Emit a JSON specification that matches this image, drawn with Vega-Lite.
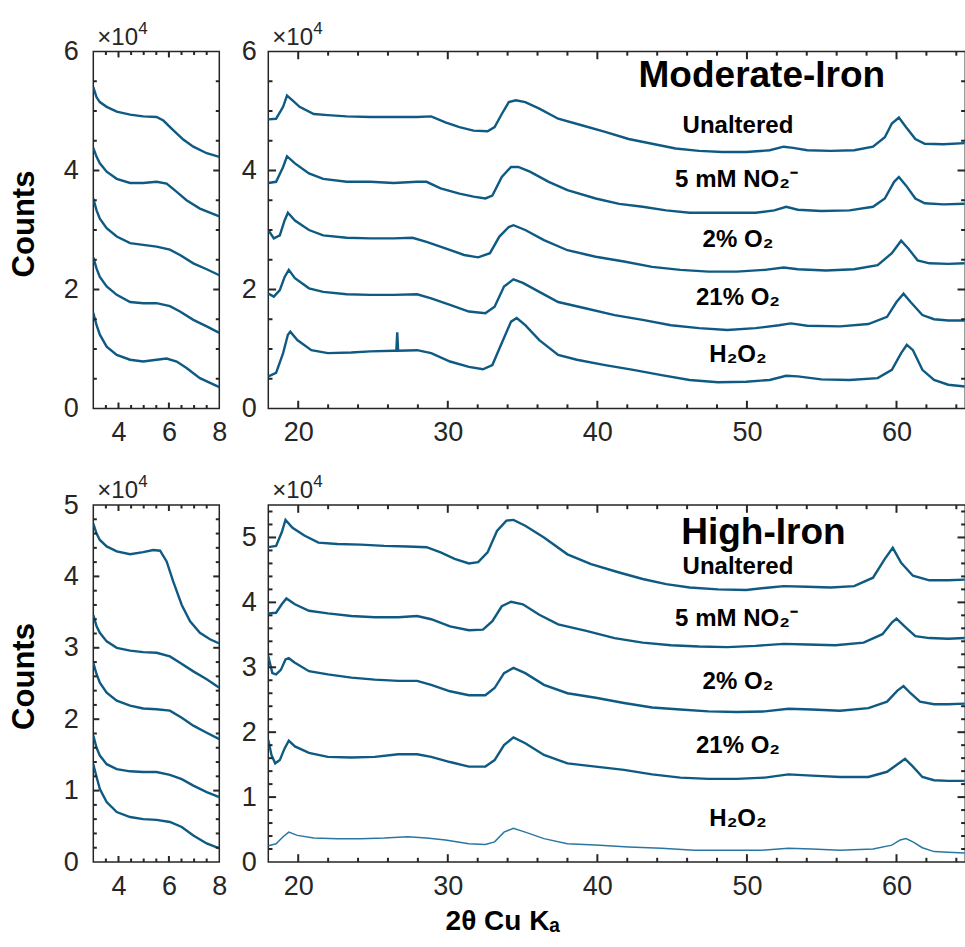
{
"$schema": "https://vega.github.io/schema/vega-lite/v6.json",
"autosize": {"type": "none"},
"padding": {"left": 93.3, "top": 51.5, "right": 871.7, "bottom": 895.5},
"background": "white",
"bounds": "flush",
"columns": 2,
"spacing": {"row": 96.5, "column": 49},
"config": {
  "view": {"stroke": "#262626", "strokeWidth": 1.5},
  "axis": {"labelFont": "Liberation Sans", "labelFontSize": 27, "labelColor": "#262626", "ticks": false, "domain": false, "grid": false, "labelOverlap": false, "labelFlush": false, "titleFont": "Liberation Sans", "titleColor": "#000000"},
  "rule": {"color": "#262626", "strokeWidth": 2}
},
"datasets": {
"TXL": [{"v":3.5,"m":"n"},{"v":4,"m":"j"},{"v":4.5,"m":"n"},{"v":5,"m":"n"},{"v":5.5,"m":"n"},{"v":6,"m":"j"},{"v":6.5,"m":"n"},{"v":7,"m":"n"},{"v":7.5,"m":"n"}],
"TXR": [{"v":20,"m":"j"},{"v":22,"m":"n"},{"v":24,"m":"n"},{"v":26,"m":"n"},{"v":28,"m":"n"},{"v":30,"m":"j"},{"v":32,"m":"n"},{"v":34,"m":"n"},{"v":36,"m":"n"},{"v":38,"m":"n"},{"v":40,"m":"j"},{"v":42,"m":"n"},{"v":44,"m":"n"},{"v":46,"m":"n"},{"v":48,"m":"n"},{"v":50,"m":"j"},{"v":52,"m":"n"},{"v":54,"m":"n"},{"v":56,"m":"n"},{"v":58,"m":"n"},{"v":60,"m":"j"},{"v":62,"m":"n"},{"v":64,"m":"n"}],
"TYT": [{"v":5000,"m":"n"},{"v":10000,"m":"n"},{"v":15000,"m":"n"},{"v":20000,"m":"j"},{"v":25000,"m":"n"},{"v":30000,"m":"n"},{"v":35000,"m":"n"},{"v":40000,"m":"j"},{"v":45000,"m":"n"},{"v":50000,"m":"n"},{"v":55000,"m":"n"}],
"TYB": [{"v":2000,"m":"n"},{"v":4000,"m":"n"},{"v":6000,"m":"n"},{"v":8000,"m":"n"},{"v":10000,"m":"j"},{"v":12000,"m":"n"},{"v":14000,"m":"n"},{"v":16000,"m":"n"},{"v":18000,"m":"n"},{"v":20000,"m":"j"},{"v":22000,"m":"n"},{"v":24000,"m":"n"},{"v":26000,"m":"n"},{"v":28000,"m":"n"},{"v":30000,"m":"j"},{"v":32000,"m":"n"},{"v":34000,"m":"n"},{"v":36000,"m":"n"},{"v":38000,"m":"n"},{"v":40000,"m":"j"},{"v":42000,"m":"n"},{"v":44000,"m":"n"},{"v":46000,"m":"n"},{"v":48000,"m":"n"},{"v":50000,"m":"j"},{"v":52000,"m":"n"},{"v":54000,"m":"n"}],
"ML": [
{"s":"U","x":3.0,"y":54000},{"s":"U","x":3.13,"y":52300},{"s":"U","x":3.26,"y":51500},{"s":"U","x":3.53,"y":50700},{"s":"U","x":3.93,"y":49900},{"s":"U","x":4.46,"y":49400},{"s":"U","x":4.98,"y":49100},{"s":"U","x":5.51,"y":49000},{"s":"U","x":5.78,"y":48400},{"s":"U","x":6.17,"y":46800},{"s":"U","x":6.57,"y":45200},{"s":"U","x":6.97,"y":44000},{"s":"U","x":7.5,"y":42900},{"s":"U","x":8.0,"y":42300},
{"s":"N","x":3.0,"y":43800},{"s":"N","x":3.13,"y":42300},{"s":"N","x":3.26,"y":41200},{"s":"N","x":3.53,"y":39800},{"s":"N","x":3.93,"y":38600},{"s":"N","x":4.46,"y":37900},{"s":"N","x":4.98,"y":37900},{"s":"N","x":5.51,"y":38100},{"s":"N","x":5.91,"y":37800},{"s":"N","x":6.31,"y":36400},{"s":"N","x":6.7,"y":35000},{"s":"N","x":7.23,"y":33600},{"s":"N","x":8.0,"y":32300},
{"s":"O2","x":3.0,"y":35300},{"s":"O2","x":3.13,"y":33300},{"s":"O2","x":3.26,"y":31900},{"s":"O2","x":3.53,"y":30300},{"s":"O2","x":3.93,"y":28900},{"s":"O2","x":4.46,"y":27800},{"s":"O2","x":4.98,"y":27500},{"s":"O2","x":5.51,"y":27200},{"s":"O2","x":6.04,"y":26700},{"s":"O2","x":6.44,"y":25800},{"s":"O2","x":6.97,"y":24400},{"s":"O2","x":7.5,"y":23400},{"s":"O2","x":8.0,"y":22400},
{"s":"O21","x":3.0,"y":25400},{"s":"O21","x":3.13,"y":23500},{"s":"O21","x":3.26,"y":22100},{"s":"O21","x":3.53,"y":20500},{"s":"O21","x":3.93,"y":19100},{"s":"O21","x":4.46,"y":17900},{"s":"O21","x":4.98,"y":17700},{"s":"O21","x":5.51,"y":17700},{"s":"O21","x":6.04,"y":17200},{"s":"O21","x":6.44,"y":16300},{"s":"O21","x":6.97,"y":14900},{"s":"O21","x":7.5,"y":13800},{"s":"O21","x":8.0,"y":12700},
{"s":"H","x":3.0,"y":16100},{"s":"H","x":3.13,"y":14000},{"s":"H","x":3.26,"y":12400},{"s":"H","x":3.53,"y":10400},{"s":"H","x":3.93,"y":9000},{"s":"H","x":4.46,"y":8200},{"s":"H","x":4.98,"y":7900},{"s":"H","x":5.51,"y":8200},{"s":"H","x":5.91,"y":8400},{"s":"H","x":6.31,"y":7900},{"s":"H","x":6.7,"y":6800},{"s":"H","x":7.23,"y":5100},{"s":"H","x":8.0,"y":3600}
],
"HL": [
{"s":"U","x":3.0,"y":47400},{"s":"U","x":3.13,"y":46000},{"s":"U","x":3.26,"y":45100},{"s":"U","x":3.53,"y":44200},{"s":"U","x":3.93,"y":43500},{"s":"U","x":4.46,"y":43100},{"s":"U","x":4.98,"y":43400},{"s":"U","x":5.38,"y":43700},{"s":"U","x":5.65,"y":43600},{"s":"U","x":5.91,"y":42100},{"s":"U","x":6.17,"y":39300},{"s":"U","x":6.51,"y":36000},{"s":"U","x":6.84,"y":33700},{"s":"U","x":7.23,"y":32100},{"s":"U","x":7.63,"y":31200},{"s":"U","x":8.0,"y":30600},
{"s":"N","x":3.0,"y":34600},{"s":"N","x":3.13,"y":33000},{"s":"N","x":3.26,"y":32100},{"s":"N","x":3.53,"y":30900},{"s":"N","x":3.93,"y":30000},{"s":"N","x":4.46,"y":29600},{"s":"N","x":4.98,"y":29400},{"s":"N","x":5.51,"y":29300},{"s":"N","x":6.04,"y":28800},{"s":"N","x":6.44,"y":27900},{"s":"N","x":6.97,"y":26700},{"s":"N","x":7.5,"y":25600},{"s":"N","x":8.0,"y":24400},
{"s":"O2","x":3.0,"y":27900},{"s":"O2","x":3.13,"y":26300},{"s":"O2","x":3.26,"y":25100},{"s":"O2","x":3.53,"y":23700},{"s":"O2","x":3.93,"y":22600},{"s":"O2","x":4.46,"y":21900},{"s":"O2","x":4.98,"y":21500},{"s":"O2","x":5.51,"y":21400},{"s":"O2","x":6.04,"y":21200},{"s":"O2","x":6.51,"y":20200},{"s":"O2","x":6.97,"y":19100},{"s":"O2","x":7.5,"y":18100},{"s":"O2","x":8.0,"y":17200},
{"s":"O21","x":3.0,"y":17700},{"s":"O21","x":3.13,"y":16000},{"s":"O21","x":3.26,"y":14900},{"s":"O21","x":3.53,"y":13700},{"s":"O21","x":3.93,"y":13000},{"s":"O21","x":4.46,"y":12700},{"s":"O21","x":4.98,"y":12600},{"s":"O21","x":5.51,"y":12600},{"s":"O21","x":6.04,"y":12200},{"s":"O21","x":6.51,"y":11600},{"s":"O21","x":6.97,"y":10700},{"s":"O21","x":7.5,"y":9800},{"s":"O21","x":8.0,"y":9100},
{"s":"H","x":3.0,"y":13700},{"s":"H","x":3.13,"y":11900},{"s":"H","x":3.26,"y":10200},{"s":"H","x":3.53,"y":8400},{"s":"H","x":3.93,"y":7000},{"s":"H","x":4.46,"y":6300},{"s":"H","x":4.98,"y":6000},{"s":"H","x":5.51,"y":5900},{"s":"H","x":6.04,"y":5600},{"s":"H","x":6.51,"y":4900},{"s":"H","x":6.97,"y":3700},{"s":"H","x":7.5,"y":2600},{"s":"H","x":8.0,"y":1900}
],
"MR": [
{"s":"U","x":18.0,"y":48600},{"s":"U","x":18.52,"y":48700},{"s":"U","x":18.99,"y":50700},{"s":"U","x":19.25,"y":52600},{"s":"U","x":19.62,"y":51800},{"s":"U","x":20.09,"y":50700},{"s":"U","x":21.04,"y":49500},{"s":"U","x":21.98,"y":49300},{"s":"U","x":23.24,"y":49100},{"s":"U","x":24.81,"y":49000},{"s":"U","x":26.38,"y":49000},{"s":"U","x":27.95,"y":49000},{"s":"U","x":28.89,"y":49100},{"s":"U","x":29.84,"y":48100},{"s":"U","x":30.78,"y":47300},{"s":"U","x":31.72,"y":46700},{"s":"U","x":32.66,"y":46600},{"s":"U","x":33.13,"y":47300},{"s":"U","x":33.61,"y":49500},{"s":"U","x":34.08,"y":51500},{"s":"U","x":34.55,"y":51800},{"s":"U","x":35.18,"y":51500},{"s":"U","x":36.12,"y":50400},{"s":"U","x":37.38,"y":48700},{"s":"U","x":38.95,"y":47600},{"s":"U","x":40.52,"y":46500},{"s":"U","x":42.09,"y":45300},{"s":"U","x":43.66,"y":44500},{"s":"U","x":45.23,"y":43700},{"s":"U","x":46.8,"y":43300},{"s":"U","x":48.37,"y":43100},{"s":"U","x":49.95,"y":43100},{"s":"U","x":51.52,"y":43400},{"s":"U","x":52.46,"y":44000},{"s":"U","x":53.09,"y":43800},{"s":"U","x":54.03,"y":43400},{"s":"U","x":55.6,"y":43300},{"s":"U","x":57.17,"y":43400},{"s":"U","x":58.43,"y":44000},{"s":"U","x":59.22,"y":45600},{"s":"U","x":59.69,"y":47900},{"s":"U","x":60.16,"y":48900},{"s":"U","x":60.63,"y":47300},{"s":"U","x":61.26,"y":45300},{"s":"U","x":61.89,"y":44500},{"s":"U","x":63.14,"y":44400},{"s":"U","x":64.56,"y":44600},
{"s":"N","x":18.0,"y":37900},{"s":"N","x":18.52,"y":38100},{"s":"N","x":18.99,"y":40600},{"s":"N","x":19.25,"y":42400},{"s":"N","x":19.78,"y":41200},{"s":"N","x":20.72,"y":39500},{"s":"N","x":21.67,"y":38600},{"s":"N","x":23.24,"y":38100},{"s":"N","x":24.81,"y":38100},{"s":"N","x":26.38,"y":37900},{"s":"N","x":27.95,"y":38100},{"s":"N","x":28.58,"y":38100},{"s":"N","x":29.52,"y":37000},{"s":"N","x":30.78,"y":36100},{"s":"N","x":31.72,"y":35600},{"s":"N","x":32.51,"y":35300},{"s":"N","x":32.98,"y":35800},{"s":"N","x":33.61,"y":38900},{"s":"N","x":34.23,"y":40600},{"s":"N","x":34.71,"y":40600},{"s":"N","x":35.49,"y":39800},{"s":"N","x":36.75,"y":38100},{"s":"N","x":38.0,"y":36700},{"s":"N","x":39.89,"y":35300},{"s":"N","x":41.46,"y":34400},{"s":"N","x":43.03,"y":33900},{"s":"N","x":44.6,"y":33300},{"s":"N","x":46.17,"y":32900},{"s":"N","x":48.37,"y":32900},{"s":"N","x":50.57,"y":32900},{"s":"N","x":51.83,"y":33300},{"s":"N","x":52.62,"y":33900},{"s":"N","x":53.4,"y":33400},{"s":"N","x":54.97,"y":33200},{"s":"N","x":56.86,"y":33300},{"s":"N","x":58.43,"y":33900},{"s":"N","x":59.22,"y":35300},{"s":"N","x":59.84,"y":38100},{"s":"N","x":60.16,"y":38900},{"s":"N","x":60.63,"y":37500},{"s":"N","x":61.26,"y":35300},{"s":"N","x":61.89,"y":34500},{"s":"N","x":63.14,"y":34300},{"s":"N","x":64.56,"y":34400},
{"s":"O2","x":18.0,"y":30000},{"s":"O2","x":18.37,"y":28600},{"s":"O2","x":18.77,"y":29100},{"s":"O2","x":19.09,"y":31600},{"s":"O2","x":19.31,"y":32900},{"s":"O2","x":19.78,"y":31600},{"s":"O2","x":20.72,"y":30000},{"s":"O2","x":21.67,"y":29100},{"s":"O2","x":23.24,"y":28700},{"s":"O2","x":24.81,"y":28600},{"s":"O2","x":26.38,"y":28600},{"s":"O2","x":27.64,"y":28700},{"s":"O2","x":28.58,"y":28000},{"s":"O2","x":29.84,"y":26900},{"s":"O2","x":31.09,"y":25800},{"s":"O2","x":32.03,"y":25400},{"s":"O2","x":32.82,"y":26100},{"s":"O2","x":33.45,"y":28900},{"s":"O2","x":34.08,"y":30500},{"s":"O2","x":34.39,"y":30800},{"s":"O2","x":35.18,"y":30000},{"s":"O2","x":36.43,"y":28300},{"s":"O2","x":38.0,"y":26600},{"s":"O2","x":39.89,"y":25500},{"s":"O2","x":41.78,"y":24700},{"s":"O2","x":43.66,"y":23800},{"s":"O2","x":45.55,"y":23300},{"s":"O2","x":47.43,"y":23000},{"s":"O2","x":49.32,"y":23000},{"s":"O2","x":51.2,"y":23300},{"s":"O2","x":52.46,"y":23700},{"s":"O2","x":53.4,"y":23400},{"s":"O2","x":55.29,"y":23200},{"s":"O2","x":57.17,"y":23400},{"s":"O2","x":58.74,"y":24100},{"s":"O2","x":59.69,"y":26100},{"s":"O2","x":60.31,"y":28200},{"s":"O2","x":60.79,"y":26900},{"s":"O2","x":61.41,"y":24900},{"s":"O2","x":62.2,"y":24400},{"s":"O2","x":63.46,"y":24300},{"s":"O2","x":64.56,"y":24400},
{"s":"O21","x":18.0,"y":19300},{"s":"O21","x":18.37,"y":18800},{"s":"O21","x":18.77,"y":19900},{"s":"O21","x":19.09,"y":22100},{"s":"O21","x":19.37,"y":23300},{"s":"O21","x":19.78,"y":21900},{"s":"O21","x":20.72,"y":20200},{"s":"O21","x":21.67,"y":19600},{"s":"O21","x":23.24,"y":19200},{"s":"O21","x":24.81,"y":19100},{"s":"O21","x":26.38,"y":19100},{"s":"O21","x":27.95,"y":19200},{"s":"O21","x":28.89,"y":18500},{"s":"O21","x":30.15,"y":17400},{"s":"O21","x":31.41,"y":16300},{"s":"O21","x":32.51,"y":16000},{"s":"O21","x":33.13,"y":17100},{"s":"O21","x":33.76,"y":20500},{"s":"O21","x":34.39,"y":21700},{"s":"O21","x":35.02,"y":21100},{"s":"O21","x":36.12,"y":19600},{"s":"O21","x":37.38,"y":17900},{"s":"O21","x":39.26,"y":16800},{"s":"O21","x":41.15,"y":15700},{"s":"O21","x":43.03,"y":14900},{"s":"O21","x":44.92,"y":14000},{"s":"O21","x":46.8,"y":13500},{"s":"O21","x":48.69,"y":13200},{"s":"O21","x":50.57,"y":13500},{"s":"O21","x":52.14,"y":14000},{"s":"O21","x":52.93,"y":14300},{"s":"O21","x":54.03,"y":13900},{"s":"O21","x":56.23,"y":13800},{"s":"O21","x":58.12,"y":14200},{"s":"O21","x":59.37,"y":15400},{"s":"O21","x":60.0,"y":17900},{"s":"O21","x":60.47,"y":19300},{"s":"O21","x":60.94,"y":17900},{"s":"O21","x":61.73,"y":15700},{"s":"O21","x":62.51,"y":15000},{"s":"O21","x":63.46,"y":14800},{"s":"O21","x":64.56,"y":14800},
{"s":"H","x":18.0,"y":5400},{"s":"H","x":18.52,"y":6000},{"s":"H","x":18.99,"y":9300},{"s":"H","x":19.31,"y":12400},{"s":"H","x":19.47,"y":12900},{"s":"H","x":19.94,"y":11500},{"s":"H","x":20.88,"y":9800},{"s":"H","x":21.98,"y":9300},{"s":"H","x":23.55,"y":9400},{"s":"H","x":24.81,"y":9600},{"s":"H","x":26.38,"y":9700},{"s":"H","x":26.56,"y":9700},{"s":"H","x":26.62,"y":12800},{"s":"H","x":26.68,"y":9700},{"s":"H","x":27.95,"y":9800},{"s":"H","x":28.89,"y":9300},{"s":"H","x":30.15,"y":7900},{"s":"H","x":31.41,"y":7000},{"s":"H","x":32.35,"y":6600},{"s":"H","x":32.98,"y":7300},{"s":"H","x":33.61,"y":11000},{"s":"H","x":34.23,"y":14600},{"s":"H","x":34.61,"y":15200},{"s":"H","x":35.18,"y":14000},{"s":"H","x":36.12,"y":11500},{"s":"H","x":37.38,"y":9000},{"s":"H","x":38.63,"y":8200},{"s":"H","x":40.52,"y":7300},{"s":"H","x":42.4,"y":6500},{"s":"H","x":44.29,"y":5600},{"s":"H","x":46.17,"y":4800},{"s":"H","x":48.06,"y":4400},{"s":"H","x":49.95,"y":4500},{"s":"H","x":51.52,"y":4800},{"s":"H","x":52.62,"y":5500},{"s":"H","x":53.4,"y":5400},{"s":"H","x":54.97,"y":4900},{"s":"H","x":56.86,"y":4800},{"s":"H","x":58.74,"y":5100},{"s":"H","x":59.69,"y":6500},{"s":"H","x":60.31,"y":9300},{"s":"H","x":60.69,"y":10700},{"s":"H","x":61.1,"y":9800},{"s":"H","x":61.73,"y":6500},{"s":"H","x":62.51,"y":4800},{"s":"H","x":63.46,"y":4000},{"s":"H","x":64.56,"y":3700}
],
"HR": [
{"s":"U","x":18.0,"y":48500},{"s":"U","x":18.52,"y":48700},{"s":"U","x":18.9,"y":50800},{"s":"U","x":19.15,"y":52700},{"s":"U","x":19.62,"y":51500},{"s":"U","x":20.41,"y":50300},{"s":"U","x":21.35,"y":49200},{"s":"U","x":22.61,"y":49000},{"s":"U","x":24.18,"y":48900},{"s":"U","x":25.75,"y":48700},{"s":"U","x":27.32,"y":48600},{"s":"U","x":28.58,"y":48500},{"s":"U","x":29.52,"y":47700},{"s":"U","x":30.46,"y":46700},{"s":"U","x":31.41,"y":46000},{"s":"U","x":32.03,"y":46200},{"s":"U","x":32.66,"y":47700},{"s":"U","x":33.29,"y":51000},{"s":"U","x":33.92,"y":52600},{"s":"U","x":34.39,"y":52700},{"s":"U","x":35.18,"y":51800},{"s":"U","x":36.43,"y":50000},{"s":"U","x":38.0,"y":47400},{"s":"U","x":39.58,"y":45900},{"s":"U","x":41.46,"y":44600},{"s":"U","x":43.03,"y":43600},{"s":"U","x":44.6,"y":42800},{"s":"U","x":46.17,"y":42300},{"s":"U","x":48.06,"y":42000},{"s":"U","x":49.95,"y":41900},{"s":"U","x":51.52,"y":42300},{"s":"U","x":52.46,"y":42500},{"s":"U","x":54.03,"y":42400},{"s":"U","x":55.6,"y":42300},{"s":"U","x":57.17,"y":42500},{"s":"U","x":58.43,"y":43800},{"s":"U","x":59.22,"y":46700},{"s":"U","x":59.75,"y":48400},{"s":"U","x":60.31,"y":46100},{"s":"U","x":61.1,"y":44100},{"s":"U","x":62.2,"y":43400},{"s":"U","x":63.46,"y":43400},{"s":"U","x":64.56,"y":43500},
{"s":"N","x":18.0,"y":38300},{"s":"N","x":18.52,"y":38400},{"s":"N","x":18.9,"y":39700},{"s":"N","x":19.21,"y":40600},{"s":"N","x":19.78,"y":39700},{"s":"N","x":20.72,"y":38700},{"s":"N","x":21.98,"y":38300},{"s":"N","x":23.55,"y":37900},{"s":"N","x":25.12,"y":37700},{"s":"N","x":26.69,"y":37700},{"s":"N","x":27.95,"y":37900},{"s":"N","x":28.89,"y":37400},{"s":"N","x":30.15,"y":36300},{"s":"N","x":31.41,"y":35700},{"s":"N","x":32.35,"y":35800},{"s":"N","x":32.98,"y":37100},{"s":"N","x":33.61,"y":39400},{"s":"N","x":34.23,"y":40100},{"s":"N","x":35.02,"y":39700},{"s":"N","x":36.12,"y":38100},{"s":"N","x":37.38,"y":36600},{"s":"N","x":39.26,"y":35600},{"s":"N","x":41.15,"y":34500},{"s":"N","x":43.03,"y":33800},{"s":"N","x":44.92,"y":33400},{"s":"N","x":46.8,"y":33200},{"s":"N","x":48.69,"y":33100},{"s":"N","x":50.57,"y":33300},{"s":"N","x":52.46,"y":33600},{"s":"N","x":54.03,"y":33500},{"s":"N","x":55.92,"y":33400},{"s":"N","x":57.8,"y":33800},{"s":"N","x":59.06,"y":35100},{"s":"N","x":59.69,"y":36900},{"s":"N","x":60.0,"y":37500},{"s":"N","x":60.63,"y":36100},{"s":"N","x":61.26,"y":34800},{"s":"N","x":62.2,"y":34500},{"s":"N","x":63.46,"y":34400},{"s":"N","x":64.56,"y":34500},
{"s":"O2","x":18.0,"y":31700},{"s":"O2","x":18.27,"y":29100},{"s":"O2","x":18.52,"y":28900},{"s":"O2","x":18.84,"y":29600},{"s":"O2","x":19.15,"y":31200},{"s":"O2","x":19.37,"y":31400},{"s":"O2","x":19.78,"y":30700},{"s":"O2","x":20.72,"y":29400},{"s":"O2","x":21.98,"y":28900},{"s":"O2","x":23.55,"y":28400},{"s":"O2","x":25.12,"y":28100},{"s":"O2","x":26.69,"y":27900},{"s":"O2","x":27.95,"y":27900},{"s":"O2","x":28.89,"y":27300},{"s":"O2","x":30.15,"y":26300},{"s":"O2","x":31.41,"y":25700},{"s":"O2","x":32.51,"y":25700},{"s":"O2","x":33.13,"y":26800},{"s":"O2","x":33.76,"y":29100},{"s":"O2","x":34.39,"y":29900},{"s":"O2","x":35.18,"y":29100},{"s":"O2","x":36.43,"y":27300},{"s":"O2","x":38.0,"y":26000},{"s":"O2","x":39.89,"y":25300},{"s":"O2","x":41.78,"y":24500},{"s":"O2","x":43.66,"y":23800},{"s":"O2","x":45.55,"y":23500},{"s":"O2","x":47.43,"y":23200},{"s":"O2","x":49.32,"y":23100},{"s":"O2","x":51.2,"y":23200},{"s":"O2","x":52.77,"y":23600},{"s":"O2","x":54.34,"y":23500},{"s":"O2","x":56.23,"y":23300},{"s":"O2","x":58.12,"y":23700},{"s":"O2","x":59.37,"y":24700},{"s":"O2","x":60.06,"y":26400},{"s":"O2","x":60.47,"y":27100},{"s":"O2","x":60.94,"y":26000},{"s":"O2","x":61.57,"y":24700},{"s":"O2","x":62.51,"y":24300},{"s":"O2","x":63.46,"y":24300},{"s":"O2","x":64.56,"y":24400},
{"s":"O21","x":18.0,"y":18800},{"s":"O21","x":18.21,"y":16500},{"s":"O21","x":18.46,"y":15200},{"s":"O21","x":18.77,"y":15700},{"s":"O21","x":19.09,"y":17500},{"s":"O21","x":19.37,"y":18700},{"s":"O21","x":19.78,"y":17800},{"s":"O21","x":20.72,"y":16800},{"s":"O21","x":21.98,"y":16200},{"s":"O21","x":23.55,"y":16100},{"s":"O21","x":25.12,"y":16200},{"s":"O21","x":26.69,"y":16600},{"s":"O21","x":27.95,"y":16600},{"s":"O21","x":28.89,"y":16200},{"s":"O21","x":30.15,"y":15400},{"s":"O21","x":31.41,"y":14700},{"s":"O21","x":32.51,"y":14700},{"s":"O21","x":33.13,"y":15700},{"s":"O21","x":33.76,"y":18000},{"s":"O21","x":34.39,"y":19200},{"s":"O21","x":35.18,"y":18300},{"s":"O21","x":36.43,"y":16500},{"s":"O21","x":38.0,"y":15200},{"s":"O21","x":39.89,"y":14700},{"s":"O21","x":41.78,"y":14200},{"s":"O21","x":43.66,"y":13500},{"s":"O21","x":45.55,"y":13000},{"s":"O21","x":47.43,"y":12800},{"s":"O21","x":49.32,"y":12800},{"s":"O21","x":51.2,"y":13000},{"s":"O21","x":52.77,"y":13500},{"s":"O21","x":54.34,"y":13300},{"s":"O21","x":56.23,"y":13100},{"s":"O21","x":58.12,"y":13100},{"s":"O21","x":59.37,"y":13900},{"s":"O21","x":60.16,"y":15200},{"s":"O21","x":60.57,"y":15900},{"s":"O21","x":61.1,"y":14700},{"s":"O21","x":61.73,"y":13100},{"s":"O21","x":62.51,"y":12600},{"s":"O21","x":63.46,"y":12500},{"s":"O21","x":64.56,"y":12500},
{"s":"H","x":18.0,"y":2500},{"s":"H","x":18.52,"y":2800},{"s":"H","x":18.99,"y":3900},{"s":"H","x":19.37,"y":4600},{"s":"H","x":19.94,"y":4100},{"s":"H","x":21.04,"y":3700},{"s":"H","x":22.61,"y":3600},{"s":"H","x":24.18,"y":3600},{"s":"H","x":25.75,"y":3700},{"s":"H","x":27.32,"y":3900},{"s":"H","x":28.58,"y":3700},{"s":"H","x":29.84,"y":3400},{"s":"H","x":31.41,"y":2800},{"s":"H","x":32.51,"y":2700},{"s":"H","x":33.13,"y":3100},{"s":"H","x":33.76,"y":4600},{"s":"H","x":34.39,"y":5200},{"s":"H","x":35.18,"y":4600},{"s":"H","x":36.43,"y":3600},{"s":"H","x":38.0,"y":2800},{"s":"H","x":39.89,"y":2600},{"s":"H","x":42.09,"y":2300},{"s":"H","x":44.29,"y":2100},{"s":"H","x":46.49,"y":1800},{"s":"H","x":48.69,"y":1800},{"s":"H","x":50.89,"y":1800},{"s":"H","x":52.77,"y":2100},{"s":"H","x":54.34,"y":2000},{"s":"H","x":56.23,"y":1800},{"s":"H","x":58.43,"y":2000},{"s":"H","x":59.69,"y":2600},{"s":"H","x":60.25,"y":3400},{"s":"H","x":60.63,"y":3600},{"s":"H","x":61.1,"y":3100},{"s":"H","x":61.73,"y":2200},{"s":"H","x":62.51,"y":1600},{"s":"H","x":63.46,"y":1500},{"s":"H","x":64.56,"y":1400}
],
"MRT": [{"t":"Moderate-Iron","x":51.0,"y":55800}],
"MRL": [{"t":"Unaltered","x":49.4,"y":47400},{"t":"5 mM NO₂⁻","x":49.3,"y":38400},{"t":"2% O₂","x":49.4,"y":28400},{"t":"21% O₂","x":49.4,"y":18600},{"t":"H₂O₂","x":49.4,"y":9000}],
"HRT": [{"t":"High-Iron","x":51.1,"y":50700}],
"HRL": [{"t":"Unaltered","x":49.4,"y":45400},{"t":"5 mM NO₂⁻","x":49.3,"y":37500},{"t":"2% O₂","x":49.4,"y":27800},{"t":"21% O₂","x":49.4,"y":17900},{"t":"H₂O₂","x":49.4,"y":6700}]
},
"concat": [
{
 "width": 126, "height": 357,
 "data": {"name": "ML"},
 "layer": [
  {"mark": {"type": "line", "color": "#0f5a82", "strokeWidth": 2.4, "clip": true},
   "encoding": {
    "x": {"field": "x", "type": "quantitative", "scale": {"domain": [3, 8], "nice": false, "zero": false},
      "axis": {"orient": "bottom", "values": [4,6,8], "format": "d", "labelPadding": 11, "title": null}},
    "y": {"field": "y", "type": "quantitative", "scale": {"domain": [0, 60000], "nice": false},
      "axis": {"orient": "left", "values": [0,20000,40000,60000], "labelExpr": "format(datum.value/10000, 'd')", "labelPadding": 15, "title": "Counts", "titleX": -69, "titleY": 172, "titleAngle": 270, "titleAlign": "center", "titleBaseline": "middle", "titleFontSize": 31, "titleFontWeight": "bold"}},
    "detail": {"field": "s"}
   }},
  {"data": {"name": "TXL"}, "transform": [{"filter": "datum.m === 'j'"}], "mark": "rule", "encoding": {"x": {"field": "v", "type": "quantitative"}, "y": {"datum": 0, "type": "quantitative"}, "y2": {"datum": 1000}}},
  {"data": {"name": "TXL"}, "transform": [{"filter": "datum.m === 'n'"}], "mark": "rule", "encoding": {"x": {"field": "v", "type": "quantitative"}, "y": {"datum": 0, "type": "quantitative"}, "y2": {"datum": 590}}},
  {"data": {"name": "TXL"}, "transform": [{"filter": "datum.m === 'j'"}], "mark": "rule", "encoding": {"x": {"field": "v", "type": "quantitative"}, "y": {"datum": 60000, "type": "quantitative"}, "y2": {"datum": 59000}}},
  {"data": {"name": "TXL"}, "transform": [{"filter": "datum.m === 'n'"}], "mark": "rule", "encoding": {"x": {"field": "v", "type": "quantitative"}, "y": {"datum": 60000, "type": "quantitative"}, "y2": {"datum": 59410}}},
  {"data": {"name": "TYT"}, "transform": [{"filter": "datum.m === 'j'"}], "mark": "rule", "encoding": {"y": {"field": "v", "type": "quantitative"}, "x": {"datum": 3, "type": "quantitative"}, "x2": {"datum": 3.24}}},
  {"data": {"name": "TYT"}, "transform": [{"filter": "datum.m === 'n'"}], "mark": "rule", "encoding": {"y": {"field": "v", "type": "quantitative"}, "x": {"datum": 3, "type": "quantitative"}, "x2": {"datum": 3.14}}},
  {"data": {"name": "TYT"}, "transform": [{"filter": "datum.m === 'j'"}], "mark": "rule", "encoding": {"y": {"field": "v", "type": "quantitative"}, "x": {"datum": 8, "type": "quantitative"}, "x2": {"datum": 7.76}}},
  {"data": {"name": "TYT"}, "transform": [{"filter": "datum.m === 'n'"}], "mark": "rule", "encoding": {"y": {"field": "v", "type": "quantitative"}, "x": {"datum": 8, "type": "quantitative"}, "x2": {"datum": 7.86}}},
  {"data": {"values": [{"x": 3, "y": 60000}]},
   "mark": {"type": "text", "text": "×10", "font": "Liberation Sans", "fontSize": 24, "color": "#262626", "align": "left", "baseline": "alphabetic", "dx": 4, "dy": -7},
   "encoding": {"x": {"field": "x", "type": "quantitative"}, "y": {"field": "y", "type": "quantitative"}}},
  {"data": {"values": [{"x": 3, "y": 60000}]},
   "mark": {"type": "text", "text": "4", "font": "Liberation Sans", "fontSize": 17, "color": "#262626", "align": "left", "baseline": "alphabetic", "dx": 45, "dy": -18},
   "encoding": {"x": {"field": "x", "type": "quantitative"}, "y": {"field": "y", "type": "quantitative"}}}
 ]
},
{
 "width": 697, "height": 357,
 "data": {"name": "MR"},
 "layer": [
  {"mark": {"type": "line", "color": "#0f5a82", "strokeWidth": 2.4, "clip": true},
   "encoding": {
    "x": {"field": "x", "type": "quantitative", "scale": {"domain": [18, 64.6], "nice": false, "zero": false},
      "axis": {"orient": "bottom", "values": [20,30,40,50,60], "format": "d", "labelPadding": 11, "title": null}},
    "y": {"field": "y", "type": "quantitative", "scale": {"domain": [0, 60000], "nice": false},
      "axis": {"orient": "left", "values": [0,20000,40000,60000], "labelExpr": "format(datum.value/10000, 'd')", "labelPadding": 12, "title": null}},
    "detail": {"field": "s"}
   }},
  {"data": {"name": "TXR"}, "transform": [{"filter": "datum.m === 'j'"}], "mark": "rule", "encoding": {"x": {"field": "v", "type": "quantitative"}, "y": {"datum": 0, "type": "quantitative"}, "y2": {"datum": 1300}}},
  {"data": {"name": "TXR"}, "transform": [{"filter": "datum.m === 'n'"}], "mark": "rule", "encoding": {"x": {"field": "v", "type": "quantitative"}, "y": {"datum": 0, "type": "quantitative"}, "y2": {"datum": 700}}},
  {"data": {"name": "TXR"}, "transform": [{"filter": "datum.m === 'j'"}], "mark": "rule", "encoding": {"x": {"field": "v", "type": "quantitative"}, "y": {"datum": 60000, "type": "quantitative"}, "y2": {"datum": 58700}}},
  {"data": {"name": "TXR"}, "transform": [{"filter": "datum.m === 'n'"}], "mark": "rule", "encoding": {"x": {"field": "v", "type": "quantitative"}, "y": {"datum": 60000, "type": "quantitative"}, "y2": {"datum": 59300}}},
  {"data": {"name": "TYT"}, "transform": [{"filter": "datum.m === 'j'"}], "mark": "rule", "encoding": {"y": {"field": "v", "type": "quantitative"}, "x": {"datum": 18, "type": "quantitative"}, "x2": {"datum": 18.52}}},
  {"data": {"name": "TYT"}, "transform": [{"filter": "datum.m === 'n'"}], "mark": "rule", "encoding": {"y": {"field": "v", "type": "quantitative"}, "x": {"datum": 18, "type": "quantitative"}, "x2": {"datum": 18.28}}},
  {"data": {"name": "TYT"}, "transform": [{"filter": "datum.m === 'j'"}], "mark": "rule", "encoding": {"y": {"field": "v", "type": "quantitative"}, "x": {"datum": 64.6, "type": "quantitative"}, "x2": {"datum": 64.08}}},
  {"data": {"name": "TYT"}, "transform": [{"filter": "datum.m === 'n'"}], "mark": "rule", "encoding": {"y": {"field": "v", "type": "quantitative"}, "x": {"datum": 64.6, "type": "quantitative"}, "x2": {"datum": 64.32}}},
  {"data": {"values": [{"x": 18, "y": 60000}]},
   "mark": {"type": "text", "text": "×10", "font": "Liberation Sans", "fontSize": 24, "color": "#262626", "align": "left", "baseline": "alphabetic", "dx": 4, "dy": -7},
   "encoding": {"x": {"field": "x", "type": "quantitative"}, "y": {"field": "y", "type": "quantitative"}}},
  {"data": {"values": [{"x": 18, "y": 60000}]},
   "mark": {"type": "text", "text": "4", "font": "Liberation Sans", "fontSize": 17, "color": "#262626", "align": "left", "baseline": "alphabetic", "dx": 45, "dy": -18},
   "encoding": {"x": {"field": "x", "type": "quantitative"}, "y": {"field": "y", "type": "quantitative"}}},
  {"data": {"name": "MRT"},
   "mark": {"type": "text", "font": "Liberation Sans", "fontWeight": "bold", "fontSize": 37, "color": "#000000", "baseline": "middle", "align": "center"},
   "encoding": {"x": {"field": "x", "type": "quantitative"}, "y": {"field": "y", "type": "quantitative"}, "text": {"field": "t"}}},
  {"data": {"name": "MRL"},
   "mark": {"type": "text", "font": "Liberation Sans", "fontWeight": "bold", "fontSize": 24, "color": "#000000", "baseline": "middle", "align": "center"},
   "encoding": {"x": {"field": "x", "type": "quantitative"}, "y": {"field": "y", "type": "quantitative"}, "text": {"field": "t"}}}
 ]
},
{
 "width": 126, "height": 357,
 "data": {"name": "HL"},
 "layer": [
  {"mark": {"type": "line", "color": "#0f5a82", "strokeWidth": 2.4, "clip": true},
   "encoding": {
    "x": {"field": "x", "type": "quantitative", "scale": {"domain": [3, 8], "nice": false, "zero": false},
      "axis": {"orient": "bottom", "values": [4,6,8], "format": "d", "labelPadding": 11, "title": null}},
    "y": {"field": "y", "type": "quantitative", "scale": {"domain": [0, 50000], "nice": false},
      "axis": {"orient": "left", "values": [0,10000,20000,30000,40000,50000], "labelExpr": "format(datum.value/10000, 'd')", "labelPadding": 15, "title": "Counts", "titleX": -69, "titleY": 171, "titleAngle": 270, "titleAlign": "center", "titleBaseline": "middle", "titleFontSize": 31, "titleFontWeight": "bold"}},
    "detail": {"field": "s"}
   }},
  {"data": {"name": "TXL"}, "transform": [{"filter": "datum.m === 'j'"}], "mark": "rule", "encoding": {"x": {"field": "v", "type": "quantitative"}, "y": {"datum": 0, "type": "quantitative"}, "y2": {"datum": 840}}},
  {"data": {"name": "TXL"}, "transform": [{"filter": "datum.m === 'n'"}], "mark": "rule", "encoding": {"x": {"field": "v", "type": "quantitative"}, "y": {"datum": 0, "type": "quantitative"}, "y2": {"datum": 490}}},
  {"data": {"name": "TXL"}, "transform": [{"filter": "datum.m === 'j'"}], "mark": "rule", "encoding": {"x": {"field": "v", "type": "quantitative"}, "y": {"datum": 50000, "type": "quantitative"}, "y2": {"datum": 49160}}},
  {"data": {"name": "TXL"}, "transform": [{"filter": "datum.m === 'n'"}], "mark": "rule", "encoding": {"x": {"field": "v", "type": "quantitative"}, "y": {"datum": 50000, "type": "quantitative"}, "y2": {"datum": 49510}}},
  {"data": {"name": "TYB"}, "transform": [{"filter": "datum.m === 'j' && datum.v < 50000"}], "mark": "rule", "encoding": {"y": {"field": "v", "type": "quantitative"}, "x": {"datum": 3, "type": "quantitative"}, "x2": {"datum": 3.24}}},
  {"data": {"name": "TYB"}, "transform": [{"filter": "datum.m === 'n' && datum.v < 50000"}], "mark": "rule", "encoding": {"y": {"field": "v", "type": "quantitative"}, "x": {"datum": 3, "type": "quantitative"}, "x2": {"datum": 3.14}}},
  {"data": {"name": "TYB"}, "transform": [{"filter": "datum.m === 'j' && datum.v < 50000"}], "mark": "rule", "encoding": {"y": {"field": "v", "type": "quantitative"}, "x": {"datum": 8, "type": "quantitative"}, "x2": {"datum": 7.76}}},
  {"data": {"name": "TYB"}, "transform": [{"filter": "datum.m === 'n' && datum.v < 50000"}], "mark": "rule", "encoding": {"y": {"field": "v", "type": "quantitative"}, "x": {"datum": 8, "type": "quantitative"}, "x2": {"datum": 7.86}}},
  {"data": {"values": [{"x": 3, "y": 50000}]},
   "mark": {"type": "text", "text": "×10", "font": "Liberation Sans", "fontSize": 24, "color": "#262626", "align": "left", "baseline": "alphabetic", "dx": 4, "dy": -7},
   "encoding": {"x": {"field": "x", "type": "quantitative"}, "y": {"field": "y", "type": "quantitative"}}},
  {"data": {"values": [{"x": 3, "y": 50000}]},
   "mark": {"type": "text", "text": "4", "font": "Liberation Sans", "fontSize": 17, "color": "#262626", "align": "left", "baseline": "alphabetic", "dx": 45, "dy": -18},
   "encoding": {"x": {"field": "x", "type": "quantitative"}, "y": {"field": "y", "type": "quantitative"}}}
 ]
},
{
 "width": 697, "height": 357,
 "data": {"name": "HR"},
 "layer": [
  {"transform": [{"filter": "datum.s !== 'H'"}],
   "mark": {"type": "line", "color": "#0f5a82", "strokeWidth": 2.4, "clip": true},
   "encoding": {
    "x": {"field": "x", "type": "quantitative", "scale": {"domain": [18, 64.6], "nice": false, "zero": false},
      "axis": {"orient": "bottom", "values": [20,30,40,50,60], "format": "d", "labelPadding": 11, "title": "2θ Cu Kₐ", "titleX": 234, "titleY": 59, "titleAlign": "center", "titleBaseline": "middle", "titleFontSize": 28, "titleFontWeight": "bold"}},
    "y": {"field": "y", "type": "quantitative", "scale": {"domain": [0, 55000], "nice": false},
      "axis": {"orient": "left", "values": [0,10000,20000,30000,40000,50000], "labelExpr": "format(datum.value/10000, 'd')", "labelPadding": 12, "title": null}},
    "detail": {"field": "s"}
   }},
  {"transform": [{"filter": "datum.s === 'H'"}],
   "mark": {"type": "line", "color": "#2a76a2", "strokeWidth": 1.5, "clip": true},
   "encoding": {"x": {"field": "x", "type": "quantitative"}, "y": {"field": "y", "type": "quantitative"}}},
  {"data": {"name": "TXR"}, "transform": [{"filter": "datum.m === 'j'"}], "mark": "rule", "encoding": {"x": {"field": "v", "type": "quantitative"}, "y": {"datum": 0, "type": "quantitative"}, "y2": {"datum": 1200}}},
  {"data": {"name": "TXR"}, "transform": [{"filter": "datum.m === 'n'"}], "mark": "rule", "encoding": {"x": {"field": "v", "type": "quantitative"}, "y": {"datum": 0, "type": "quantitative"}, "y2": {"datum": 650}}},
  {"data": {"name": "TXR"}, "transform": [{"filter": "datum.m === 'j'"}], "mark": "rule", "encoding": {"x": {"field": "v", "type": "quantitative"}, "y": {"datum": 55000, "type": "quantitative"}, "y2": {"datum": 53800}}},
  {"data": {"name": "TXR"}, "transform": [{"filter": "datum.m === 'n'"}], "mark": "rule", "encoding": {"x": {"field": "v", "type": "quantitative"}, "y": {"datum": 55000, "type": "quantitative"}, "y2": {"datum": 54350}}},
  {"data": {"name": "TYB"}, "transform": [{"filter": "datum.m === 'j'"}], "mark": "rule", "encoding": {"y": {"field": "v", "type": "quantitative"}, "x": {"datum": 18, "type": "quantitative"}, "x2": {"datum": 18.52}}},
  {"data": {"name": "TYB"}, "transform": [{"filter": "datum.m === 'n'"}], "mark": "rule", "encoding": {"y": {"field": "v", "type": "quantitative"}, "x": {"datum": 18, "type": "quantitative"}, "x2": {"datum": 18.28}}},
  {"data": {"name": "TYB"}, "transform": [{"filter": "datum.m === 'j'"}], "mark": "rule", "encoding": {"y": {"field": "v", "type": "quantitative"}, "x": {"datum": 64.6, "type": "quantitative"}, "x2": {"datum": 64.08}}},
  {"data": {"name": "TYB"}, "transform": [{"filter": "datum.m === 'n'"}], "mark": "rule", "encoding": {"y": {"field": "v", "type": "quantitative"}, "x": {"datum": 64.6, "type": "quantitative"}, "x2": {"datum": 64.32}}},
  {"data": {"values": [{"x": 18, "y": 55000}]},
   "mark": {"type": "text", "text": "×10", "font": "Liberation Sans", "fontSize": 24, "color": "#262626", "align": "left", "baseline": "alphabetic", "dx": 4, "dy": -7},
   "encoding": {"x": {"field": "x", "type": "quantitative"}, "y": {"field": "y", "type": "quantitative"}}},
  {"data": {"values": [{"x": 18, "y": 55000}]},
   "mark": {"type": "text", "text": "4", "font": "Liberation Sans", "fontSize": 17, "color": "#262626", "align": "left", "baseline": "alphabetic", "dx": 45, "dy": -18},
   "encoding": {"x": {"field": "x", "type": "quantitative"}, "y": {"field": "y", "type": "quantitative"}}},
  {"data": {"name": "HRT"},
   "mark": {"type": "text", "font": "Liberation Sans", "fontWeight": "bold", "fontSize": 37, "color": "#000000", "baseline": "middle", "align": "center"},
   "encoding": {"x": {"field": "x", "type": "quantitative"}, "y": {"field": "y", "type": "quantitative"}, "text": {"field": "t"}}},
  {"data": {"name": "HRL"},
   "mark": {"type": "text", "font": "Liberation Sans", "fontWeight": "bold", "fontSize": 24, "color": "#000000", "baseline": "middle", "align": "center"},
   "encoding": {"x": {"field": "x", "type": "quantitative"}, "y": {"field": "y", "type": "quantitative"}, "text": {"field": "t"}}}
 ]
}
]
}
